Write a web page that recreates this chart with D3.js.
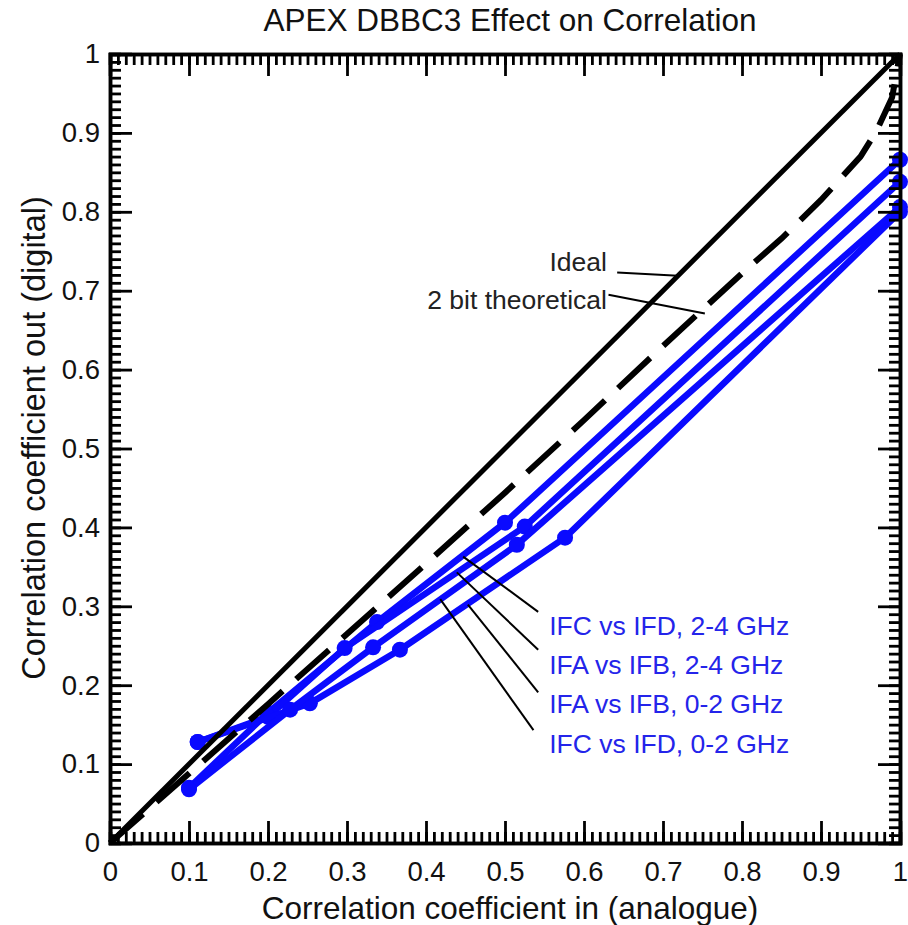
<!DOCTYPE html>
<html>
<head>
<meta charset="utf-8">
<script src="https://cdn.jsdelivr.net/npm/d3@7"></script>
<style>
  html, body { margin: 0; padding: 0; background: #fff; }
  svg { display: block; font-family: "Liberation Sans", Arial, Helvetica, sans-serif; }
</style>
</head>
<body>
<svg id="chart" width="908" height="925"></svg>
<script>
// ---------------- DATA ----------------
const chartTitle = "APEX DBBC3 Effect on Correlation";
const xAxisTitle = "Correlation coefficient in (analogue)";
const yAxisTitle = "Correlation coefficient out (digital)";

const majorTicks = [0, 0.1, 0.2, 0.3, 0.4, 0.5, 0.6, 0.7, 0.8, 0.9, 1];
const tickLabels = ["0", "0.1", "0.2", "0.3", "0.4", "0.5", "0.6", "0.7", "0.8", "0.9", "1"];

// Ideal line
const idealX = [0, 1];
const idealY = [0, 1];

// 2 bit theoretical curve
const theoryX = [0, 0.1, 0.2, 0.3, 0.4, 0.5, 0.6, 0.7, 0.8, 0.85, 0.9, 0.95, 0.97, 0.99, 1];
const theoryY = [0, 0.088, 0.176, 0.265, 0.354, 0.444, 0.536, 0.630, 0.722, 0.766, 0.815, 0.870, 0.902, 0.945, 1];

// Measured series
const seriesNames = ["IFC vs IFD, 2-4 GHz", "IFA vs IFB, 2-4 GHz", "IFA vs IFB, 0-2 GHz", "IFC vs IFD, 0-2 GHz"];
const ifcIfd24X = [0.100, 0.200, 0.338, 0.500, 1.000];
const ifcIfd24Y = [0.070, 0.165, 0.280, 0.406, 0.866];
const ifaIfb24X = [0.111, 0.200, 0.297, 0.525, 1.000];
const ifaIfb24Y = [0.128, 0.160, 0.247, 0.401, 0.838];
const ifaIfb02X = [0.111, 0.253, 0.367, 0.576, 1.000];
const ifaIfb02Y = [0.128, 0.177, 0.245, 0.387, 0.800];
const ifcIfd02X = [0.100, 0.228, 0.333, 0.515, 1.000];
const ifcIfd02Y = [0.068, 0.169, 0.248, 0.378, 0.806];

// Annotation labels: [textX, textY, leaderStartX, leaderStartY, leaderEndX, leaderEndY] in data units
const curveLabels = ["Ideal", "2 bit theoretical"];
const curveLabelPos = [[0.629, 0.737, 0.642, 0.723, 0.719, 0.719],
                       [0.629, 0.688, 0.631, 0.695, 0.753, 0.671]];
const seriesLabelPos = [[0.556, 0.275, 0.542, 0.293, 0.447, 0.363],
                        [0.556, 0.225, 0.542, 0.245, 0.439, 0.343],
                        [0.556, 0.176, 0.542, 0.191, 0.453, 0.302],
                        [0.556, 0.125, 0.536, 0.143, 0.418, 0.309]];

// ---------------- CHART ----------------
const svg = d3.select("#chart");
const x = d3.scaleLinear().domain([0, 1]).range([110, 900]);
const y = d3.scaleLinear().domain([0, 1]).range([843, 54]);

const BLUE = "#0a0aff";
const TEXTBLUE = "#2424ea";

svg.append("rect").attr("width", 908).attr("height", 925).attr("fill", "#fff");

const line = d3.line().x(d => x(d[0])).y(d => y(d[1]));
const zip = (a, b) => a.map((v, i) => [v, b[i]]);

// Blue series
const series = [
  zip(ifcIfd24X, ifcIfd24Y),
  zip(ifaIfb24X, ifaIfb24Y),
  zip(ifaIfb02X, ifaIfb02Y),
  zip(ifcIfd02X, ifcIfd02Y)
];
const gS = svg.append("g");
series.forEach(s => {
  gS.append("path").attr("d", line(s)).attr("fill", "none")
    .attr("stroke", BLUE).attr("stroke-width", 6.5).attr("stroke-linejoin", "round");
  gS.selectAll(null).data(s).enter().append("circle")
    .attr("cx", d => x(d[0])).attr("cy", d => y(d[1])).attr("r", 8).attr("fill", BLUE);
});

// Ideal & theory
svg.append("path").attr("d", line(zip(idealX, idealY))).attr("fill", "none")
  .attr("stroke", "#000").attr("stroke-width", 5);
svg.append("path").attr("d", line(zip(theoryX, theoryY))).attr("fill", "none")
  .attr("stroke", "#000").attr("stroke-width", 6).attr("stroke-dasharray", "44,18");

// Axes (ticks inward on all four sides)
function styleAxis(g) {
  g.selectAll("path.domain").attr("stroke", "#000").attr("stroke-width", 3.5);
  g.selectAll(".tick line").attr("stroke", "#000").attr("stroke-width", 2.8);
  g.selectAll("text").attr("fill", "#111").attr("font-size", 27.5)
    .attr("font-family", "'Liberation Sans', Arial, Helvetica, sans-serif");
}
const minorTicks = d3.range(0, 101).map(i => i / 100);
const fmt = d => tickLabels[majorTicks.findIndex(t => Math.abs(t - d) < 1e-9)];

// minor
svg.append("g").attr("transform", "translate(0,843)")
  .call(d3.axisBottom(x).tickValues(minorTicks).tickSize(-11).tickFormat("")).call(styleAxis);
svg.append("g").attr("transform", "translate(0,54)")
  .call(d3.axisTop(x).tickValues(minorTicks).tickSize(-11).tickFormat("")).call(styleAxis);
svg.append("g").attr("transform", "translate(110,0)")
  .call(d3.axisLeft(y).tickValues(minorTicks).tickSize(-11).tickFormat("")).call(styleAxis);
svg.append("g").attr("transform", "translate(900,0)")
  .call(d3.axisRight(y).tickValues(minorTicks).tickSize(-11).tickFormat("")).call(styleAxis);
// major
svg.append("g").attr("transform", "translate(0,843)")
  .call(d3.axisBottom(x).tickValues(majorTicks).tickSize(-22).tickPadding(18).tickFormat(fmt)).call(styleAxis);
svg.append("g").attr("transform", "translate(0,54)")
  .call(d3.axisTop(x).tickValues(majorTicks).tickSize(-22).tickFormat("")).call(styleAxis);
svg.append("g").attr("transform", "translate(110,0)")
  .call(d3.axisLeft(y).tickValues(majorTicks).tickSize(-22).tickPadding(10).tickFormat(fmt)).call(styleAxis);
svg.append("g").attr("transform", "translate(900,0)")
  .call(d3.axisRight(y).tickValues(majorTicks).tickSize(-22).tickFormat("")).call(styleAxis);

// Titles
svg.append("text").attr("x", 510).attr("y", 31).attr("text-anchor", "middle")
  .attr("font-size", 31.5).attr("fill", "#111").text(chartTitle);
svg.append("text").attr("x", 510).attr("y", 919).attr("text-anchor", "middle")
  .attr("font-size", 31.5).attr("fill", "#111").text(xAxisTitle);
svg.append("text").attr("transform", "translate(45,438) rotate(-90)").attr("text-anchor", "middle")
  .attr("font-size", 32.5).attr("fill", "#111").text(yAxisTitle);

// Curve annotations
curveLabels.forEach((lab, i) => {
  const p = curveLabelPos[i];
  svg.append("text").attr("x", x(p[0])).attr("y", y(p[1]) + 9).attr("text-anchor", "end")
    .attr("font-size", 26.5).attr("fill", "#222").text(lab);
  svg.append("line").attr("x1", x(p[2])).attr("y1", y(p[3])).attr("x2", x(p[4])).attr("y2", y(p[5]))
    .attr("stroke", "#000").attr("stroke-width", 2);
});

// Series annotations
seriesNames.forEach((lab, i) => {
  const p = seriesLabelPos[i];
  svg.append("text").attr("x", x(p[0])).attr("y", y(p[1]) + 9)
    .attr("font-size", 26.5).attr("fill", TEXTBLUE).text(lab);
  svg.append("line").attr("x1", x(p[2])).attr("y1", y(p[3])).attr("x2", x(p[4])).attr("y2", y(p[5]))
    .attr("stroke", "#000").attr("stroke-width", 2);
});
</script>
</body>
</html>
